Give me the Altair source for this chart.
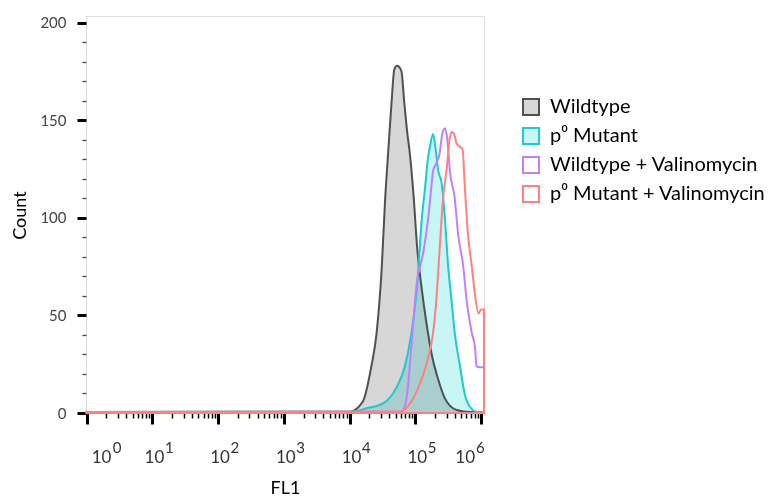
import altair as alt
import pandas as pd

# ---------------- data (FL1 given as log10 exponents) ----------------
series_names = ["Wildtype", "p⁰ Mutant", "Wildtype + Valinomycin", "p⁰ Mutant + Valinomycin"]
stroke_colors = ["#505050", "#1ecaca", "#bf80ff", "#ff8080"]
fill_colors = ["#d7d7d7", "#c8f5f5", "#ffffff", "#ffffff"]

wt_log = [0.0, 4.0, 4.2, 4.33, 4.41, 4.49, 4.54, 4.59, 4.64, 4.68, 4.72, 4.75, 4.79, 4.83, 4.88,
          4.91, 4.97, 5.03, 5.10, 5.17, 5.25, 5.35, 5.45, 5.63, 5.83, 6.045]
wt_count = [0.5, 0.7, 5.8, 23.7, 40.7, 75, 109, 135, 160, 176, 178, 177.5, 175, 160, 143,
            135, 113, 84, 63, 46, 30, 17, 7.5, 1.5, 0.5, 0.5]

mu_log = [0.0, 4.03, 4.26, 4.51, 4.72, 4.84, 4.94, 5.03, 5.10, 5.15, 5.19, 5.22, 5.27, 5.31,
          5.35, 5.40, 5.45, 5.50, 5.55, 5.60, 5.68, 5.75, 5.83, 5.93, 6.045]
mu_count = [0.5, 0.7, 2.4, 4.9, 13.5, 23.7, 40.7, 66, 100, 116, 130, 136, 143, 135,
            124, 118, 100, 75, 58, 41, 24, 10, 3.2, 0.7, 0.5]

wtv_log = [0.0, 4.79, 4.87, 4.94, 5.02, 5.12, 5.20, 5.25, 5.27, 5.32, 5.37, 5.41, 5.45, 5.48,
           5.53, 5.60, 5.65, 5.73, 5.78, 5.86, 5.91, 5.93, 5.98, 6.045]
wtv_count = [0.5, 0.7, 8.4, 34, 66, 82, 101, 118, 124, 128, 133, 143, 146, 142,
             123, 110, 92, 75, 58, 41, 33, 24, 23.4, 23.4]

muv_log = [0.0, 4.77, 4.92, 5.07, 5.20, 5.27, 5.32, 5.37, 5.42, 5.48, 5.52, 5.55, 5.59, 5.63,
           5.68, 5.72, 5.75, 5.80, 5.86, 5.91, 5.96, 6.0, 6.045]
muv_count = [0.5, 0.7, 4.9, 15, 29, 41, 58, 84, 109, 126, 140, 144, 143, 138,
             136.5, 135, 118, 92, 75, 60, 51, 53, 53]

exponents = [0, 1, 2, 3, 4, 5, 6]
y_ticks = list(range(0, 201, 10))

# ---------------- tables ----------------
rows = []
for name, logs, counts in zip(series_names,
                              [wt_log, mu_log, wtv_log, muv_log],
                              [wt_count, mu_count, wtv_count, muv_count]):
    for l, c in zip(logs, counts):
        rows.append({"series": name, "fl1": 10 ** l, "count": c})
df = pd.DataFrame(rows)

x_major = [10 ** k for k in exponents]
x_minor = [m * 10 ** k for k in exponents[:-1] for m in range(2, 10)]
x_ticks = sorted(x_major + x_minor)

lab_df = pd.DataFrame({"e": exponents, "pos": x_major,
                       "base": ["10"] * len(exponents), "sup": [str(e) for e in exponents]})

FONT = "Lato"
x_scale = alt.Scale(type="log", domain=[10 ** -0.01, 10 ** 6.045], nice=False)
y_scale = alt.Scale(domain=[0, 203.5], nice=False, zero=False)

major_test = "indexof([1,10,100,1000,10000,100000,1000000], datum.value) >= 0"
x_axis = alt.Axis(
    values=x_ticks, labels=False, domain=False, grid=False,
    title="FL1", titleFont=FONT, titleFontSize=18, titleFontWeight="normal", titleColor="black",
    titleX=199, titleY=75, titleAlign="center", titleBaseline="middle",
    tickSize={"condition": {"test": major_test, "value": 11}, "value": 5},
    tickWidth={"condition": {"test": major_test, "value": 3}, "value": 1.5},
    tickColor="black",
)
y_axis = alt.Axis(
    values=y_ticks, domain=False, grid=False,
    labelExpr="datum.value % 50 == 0 ? datum.label : ''",
    labelFont=FONT, labelFontSize=15, labelColor="#444", labelPadding=11,
    title="Count", titleFont=FONT, titleFontSize=18, titleFontWeight="normal", titleColor="black",
    titleX=-66, titleY=199, titleAlign="center", titleBaseline="middle", titleAngle=270,
    tickSize={"condition": {"test": "datum.value % 50 == 0", "value": 9}, "value": 4},
    tickWidth={"condition": {"test": "datum.value % 50 == 0", "value": 3}, "value": 1.3},
    tickColor={"condition": {"test": "datum.value % 50 == 0", "value": "black"}, "value": "#444"},
)
legend = alt.Legend(
    title=None, orient="none", legendX=435, legendY=81,
    symbolType="square", symbolSize=256, symbolStrokeWidth=2,
    labelFont=FONT, labelFontSize=20, labelColor="black", labelOffset=9, rowPadding=5,
    labelLimit=400,
)

fill_enc = alt.Fill("series:N", scale=alt.Scale(domain=series_names, range=fill_colors), legend=legend)
stroke_enc = alt.Stroke("series:N", scale=alt.Scale(domain=series_names, range=stroke_colors), legend=legend)
x_enc = alt.X("fl1:Q", scale=x_scale, axis=x_axis)
y_enc = alt.Y("count:Q", scale=y_scale, axis=y_axis, stack=None)

fills = alt.Chart(df).mark_area(strokeWidth=0, blend="multiply", interpolate="monotone").encode(
    x=x_enc, y=y_enc, fill=fill_enc, stroke=stroke_enc)
lines = alt.Chart(df).mark_area(strokeWidth=2, fillOpacity=0, interpolate="monotone").encode(
    x=x_enc, y=y_enc, fill=fill_enc, stroke=stroke_enc)


def label_layers(sel, base_align, base_dx, sup_dx):
    d = lab_df[lab_df["e"].isin(sel)]
    base = alt.Chart(d).mark_text(align=base_align, baseline="middle", dx=base_dx,
                                  font=FONT, fontSize=17, color="#333").encode(
        x=alt.X("pos:Q", scale=x_scale, axis=x_axis), y=alt.value(441.5), text="base:N")
    sup = alt.Chart(d).mark_text(align="left", baseline="middle", dx=sup_dx,
                                 font=FONT, fontSize=15, color="#333").encode(
        x=alt.X("pos:Q", scale=x_scale, axis=x_axis), y=alt.value(432), text="sup:N")
    return [base, sup]


labels = (label_layers([0], "left", 5, 26)
          + label_layers([1, 2, 3, 4, 5], "center", 2, 12.5)
          + label_layers([6], "right", -6, -5))

chart = alt.layer(fills, lines, *labels).properties(
    width=398, height=397,
    autosize=alt.AutoSizeParams(type="none"),
    padding={"left": 86, "top": 16, "right": 291, "bottom": 83},
).configure_view(stroke="#8a8a8a", strokeWidth=1.2).configure(background="white")

chart.save("out.html", embed_options={"renderer": "svg", "actions": False})
